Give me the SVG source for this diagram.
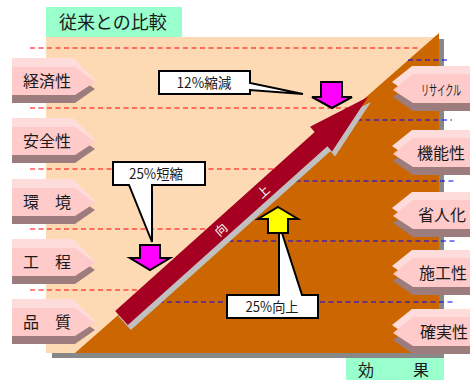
<svg xmlns="http://www.w3.org/2000/svg" xmlns:xlink="http://www.w3.org/1999/xlink" width="470" height="380" viewBox="0 0 470 380">
<style>
text{font-family:"Noto Sans CJK JP","Liberation Sans",sans-serif;fill:#1a1a1a}
.red{stroke:#ff0000;stroke-width:1.2;stroke-dasharray:5 3.5;fill:none}
.blue{stroke:#0000ff;stroke-width:1.2;stroke-dasharray:5 3.5;fill:none}
.lt{fill:#ffdcdc}.mn{fill:#ffcaca}.sh{fill:#9c7c7c}
.lbl{font-size:16px}
.cal{fill:#fff;stroke:#000;stroke-width:2;stroke-linejoin:miter}
.ct{font-size:14px}
.hd{fill:#99ffcc}
.arw{stroke:#000;stroke-width:2;stroke-linejoin:miter}
</style>
<defs>
<g id="lshape">
<polygon class="sh" points="12,-6 75,-6 95,8 75,22 12,22"/>
<polygon class="lt" points="12,-23 73,-23 95,-1 75,8 12,8"/>
<polygon class="mn" points="12,-14 75,-14 95,1 75,14 12,14"/>
</g>
<g id="rshape">
<polygon class="sh" points="413,-7 470,-7 470,22 413,22 393,8"/>
<polygon class="lt" points="412,-23 470,-23 470,7 412,7 392,-7"/>
<polygon class="mn" points="413,-15 470,-15 470,14 413,14 393,1"/>
</g>
</defs>

<g id="background">
<rect x="46" y="37" width="393" height="316" fill="#fedab4"/>
<rect x="52" y="353" width="392" height="5" fill="#888"/>
<rect x="439" y="39" width="5" height="319" fill="#888"/>
</g>

<g id="guides-red">
<line class="red" x1="30" y1="48" x2="421" y2="48"/>
<line class="red" x1="30" y1="108" x2="353" y2="108"/>
<line class="red" x1="30" y1="169" x2="284" y2="169"/>
<line class="red" x1="30" y1="229" x2="216" y2="229"/>
<line class="red" x1="30" y1="290" x2="147" y2="290"/>
</g>

<g id="effect-area">
<polygon points="75,353 439,33 439,353" fill="#cc6600"/>
</g>

<g id="guides-blue">
<line class="blue" x1="408" y1="60" x2="448" y2="60"/>
<line class="blue" x1="340" y1="120" x2="452" y2="120"/>
<line class="blue" x1="270" y1="181" x2="454" y2="181"/>
<line class="blue" x1="203" y1="241" x2="455" y2="241"/>
<line class="blue" x1="133" y1="302" x2="455" y2="302"/>
</g>

<g id="main-arrow">
<polygon transform="translate(124.5,323) rotate(-41.88)" points="0,-9.5 268,-9.5 268,-16.5 331,0 268,16.5 268,9.5 0,9.5" fill="#c0c0c0"/>
<polygon transform="translate(121.5,318) rotate(-41.88)" points="0,-9.5 268,-9.5 268,-16.5 331,0 268,16.5 268,9.5 0,9.5" fill="#a50021"/>
<g transform="translate(121.5,318) rotate(-41.88)">
<text x="133" y="5" font-size="12" text-anchor="middle" style="fill:#fff">向</text>
<text x="190" y="5" font-size="12" text-anchor="middle" style="fill:#fff">上</text>
</g>
</g>

<g id="left-economy" transform="translate(0,81)"><use xlink:href="#lshape"/><text class="lbl" x="23" y="6">経済性</text></g>
<g id="left-safety" transform="translate(0,141)"><use xlink:href="#lshape"/><text class="lbl" x="23" y="6">安全性</text></g>
<g id="left-environment" transform="translate(0,202)"><use xlink:href="#lshape"/><text class="lbl" x="23" y="6">環　境</text></g>
<g id="left-process" transform="translate(0,262)"><use xlink:href="#lshape"/><text class="lbl" x="23" y="6">工　程</text></g>
<g id="left-quality" transform="translate(0,322)"><use xlink:href="#lshape"/><text class="lbl" x="23" y="6">品　質</text></g>

<g id="right-recycle" transform="translate(0,89)"><use xlink:href="#rshape"/><text transform="translate(421,6) scale(0.58,1)" x="0" y="0" font-size="14">リサイクル</text></g>
<g id="right-function" transform="translate(0,153)"><use xlink:href="#rshape"/><text class="lbl" x="417" y="6">機能性</text></g>
<g id="right-labor" transform="translate(0,215)"><use xlink:href="#rshape"/><text class="lbl" x="418" y="6">省人化</text></g>
<g id="right-workability" transform="translate(0,273)"><use xlink:href="#rshape"/><text class="lbl" x="419" y="6">施工性</text></g>
<g id="right-reliability" transform="translate(0,332)"><use xlink:href="#rshape"/><text class="lbl" x="420" y="6">確実性</text></g>

<g id="callout-cost">
<path class="cal" d="M159,71 H250 V83 L303,94 L250,90 V94 H159 Z"/>
<text class="ct" x="204" y="88" text-anchor="middle" textLength="55" lengthAdjust="spacingAndGlyphs">12%縮減</text>
</g>
<g id="callout-time">
<path class="cal" d="M113,162 H205 V185 H152 V242 L129,185 H113 Z"/>
<text class="ct" x="156" y="179" text-anchor="middle" textLength="54" lengthAdjust="spacingAndGlyphs">25%短縮</text>
</g>
<g id="callout-improve">
<path class="cal" d="M227,295 H279 V233 H282 L302,295 H318 V318 H227 Z"/>
<text class="ct" x="272" y="312" text-anchor="middle" textLength="53" lengthAdjust="spacingAndGlyphs">25%向上</text>
</g>

<g id="arrow-down-1"><path class="arw" fill="#ff00ff" d="M321,82 H342 V97 H352 L332,108 L312,97 H321 Z"/></g>
<g id="arrow-down-2"><path class="arw" fill="#ff00ff" d="M140,245 H160 V258 H170 L150,270 L130,258 H140 Z"/></g>
<g id="arrow-up"><path class="arw" fill="#ffff00" d="M278,207 L298,219 H288 V233 H268 V219 H258 Z"/></g>

<g id="header-before">
<rect class="hd" x="46" y="7" width="136" height="30"/>
<text x="59" y="29" font-size="18">従来との比較</text>
</g>
<g id="header-effect">
<rect class="hd" x="346" y="358" width="98" height="22"/>
<text x="358" y="376" font-size="16">効<tspan x="413">果</tspan></text>
</g>
</svg>
